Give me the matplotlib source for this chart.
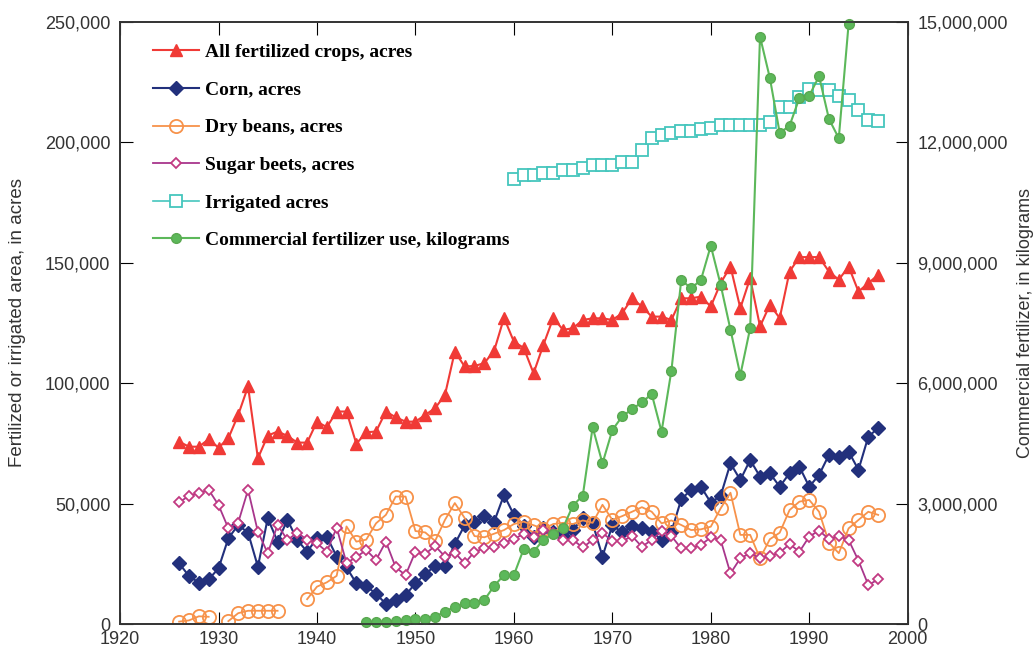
import matplotlib
matplotlib.use("Agg")
import matplotlib.pyplot as plt
from matplotlib.ticker import FuncFormatter
import numpy as np

# years for the crop series
crop_years = np.arange(1926, 1998)

all_crops = [75700, 73600, 73600, 76700, 73200, 77100, 86800, 98600, 68800, 78200,
             79900, 78100, 75300, 75300, 84000, 81700, 88200, 88200, 74800, 79600,
             79900, 88200, 85800, 84000, 84000, 86800, 89600, 95100, 113100, 106900,
             107100, 108300, 113500, 127100, 117200, 114600, 104100, 115900, 127000, 122100,
             122800, 126200, 126900, 126900, 126200, 129000, 135200, 131800, 127600, 127600,
             126200, 135200, 135200, 135900, 131800, 141500, 148400, 131100, 143600, 123500,
             132500, 127000, 146300, 152300, 152300, 152300, 146300, 142900, 148400, 138000,
             141500, 144900]

corn = [25200, 19900, 17200, 18500, 23100, 35600, 41100, 37900, 23800, 43900,
        34200, 43200, 34900, 30000, 35600, 36300, 28000, 23500, 16900, 15800,
        12500, 8400, 10000, 12000, 16900, 20800, 24100, 24100, 33200, 41000,
        42300, 44700, 42500, 53600, 45300, 40800, 36000, 40000, 38000, 36500,
        39000, 44000, 41800, 28000, 41000, 38000, 40700, 39800, 38300, 34900,
        38300, 51800, 55700, 57000, 50400, 53200, 66700, 59800, 68100, 61200,
        62600, 57000, 62600, 65300, 57000, 61900, 70200, 69200, 71600, 64000,
        77800, 81300]

dry_beans = [1000, 1500, 3200, 3000, np.nan, 1200, 4500, 5500, 5500, 5500,
             5500, np.nan, np.nan, 10300, 15500, 17300, 20000, 40500, 34200, 35000,
             41800, 45300, 52900, 52900, 38600, 38000, 34500, 43200, 50200, 44000,
             36500, 36000, 37500, 39000, 41500, 42500, 41000, 39500, 41500, 42000,
             41500, 43000, 42000, 49500, 43200, 44800, 46600, 48500, 46600, 41800,
             43000, 41100, 39000, 39300, 40400, 48000, 54500, 37000, 37000, 27300,
             35200, 37900, 47300, 50800, 51500, 46600, 33800, 29400, 39700, 43200,
             46600, 45300]

sugar_beets = [50500, 53200, 54300, 55700, 49400, 39700, 42100, 55700, 38300, 29400,
               41100, 34900, 37900, 35000, 33500, 30000, 40000, 25300, 27800, 30700,
               26600, 34200, 23500, 20300, 30000, 29100, 32400, 28000, 29600, 25200,
               30000, 31400, 32100, 33800, 35200, 37500, 36000, 39000, 37900, 34900,
               34900, 31800, 34900, 37700, 34600, 34300, 36500, 32100, 34900, 38500,
               36500, 31400, 31500, 32800, 36000, 34900, 21000, 27300, 29400, 27300,
               28200, 29600, 33200, 30000, 36300, 38800, 35200, 36500, 34900, 26300,
               16200, 18500]

irr_years = np.arange(1960, 1998)
irrigated = [184700, 186500, 186500, 187400, 187400, 188300, 188300, 189300, 190600, 190600,
             190600, 191600, 191600, 196600, 201700, 203100, 204000, 204500, 204500, 205400,
             205900, 207200, 207200, 207200, 207200, 207200, 208200, 214800, 214800, 218700,
             222000, 221800, 221800, 219300, 217600, 213500, 209300, 208600]

fert_years = np.arange(1945, 1995)
fertilizer_kg = [57e3, 57e3, 60e3, 75e3, 100e3, 116e3, 133e3, 183e3, 307e3, 432e3,
                 515e3, 532e3, 598e3, 950e3, 1.22e6, 1.22e6, 1.87e6, 1.80e6, 2.10e6, 2.25e6,
                 2.40e6, 2.95e6, 3.20e6, 4.90e6, 4.00e6, 4.83e6, 5.17e6, 5.35e6, 5.52e6, 5.73e6,
                 4.79e6, 6.31e6, 8.57e6, 8.36e6, 8.57e6, 9.42e6, 8.45e6, 7.33e6, 6.20e6, 7.37e6,
                 14.63e6, 13.60e6, 12.23e6, 12.41e6, 13.10e6, 13.16e6, 13.64e6, 12.58e6, 12.10e6, 14.95e6]

plt.rcParams['font.family'] = ['Liberation Sans', 'DejaVu Sans']

fig = plt.figure(figsize=(10.35, 6.49), dpi=100)
ax = fig.add_axes([0.116, 0.0385, 0.761, 0.928])
ax2 = ax.twinx()

h1, = ax.plot(crop_years, all_crops, color='#f03a36', marker='^', markersize=8,
              linewidth=1.5, label='All fertilized crops, acres')
h2, = ax.plot(crop_years, corn, color='#22307c', marker='D', markersize=7.5,
              linewidth=1.5, label='Corn, acres')
h3, = ax.plot(crop_years, dry_beans, color='#f7924a', marker='o', markersize=9.5,
              markerfacecolor='none', markeredgewidth=1.3, linewidth=1.3,
              label='Dry beans, acres')
h4, = ax.plot(crop_years, sugar_beets, color='#a8368c', marker='D', markersize=5,
              markerfacecolor='white', markeredgecolor='#c23a82', markeredgewidth=1.3,
              linewidth=1.3, label='Sugar beets, acres')
h5, = ax.plot(irr_years, irrigated, color='#45c6bd', marker='s', markersize=8,
              markerfacecolor='white', markeredgewidth=1.3, linewidth=1.2,
              label='Irrigated acres')
h6, = ax2.plot(fert_years, fertilizer_kg, color='#5cb85a', marker='o', markersize=7,
               markeredgecolor='#5aa850', linewidth=1.5, clip_on=False,
               label='Commercial fertilizer use, kilograms')

ax.set_xlim(1920, 2000)
ax.set_ylim(0, 250000)
ax2.set_ylim(0, 15000000)
ax.set_xticks(range(1920, 2001, 10))
ax.set_yticks(range(0, 250001, 50000))
ax2.set_yticks(range(0, 15000001, 3000000))

comma = FuncFormatter(lambda v, p: f'{int(v):,}')
ax.yaxis.set_major_formatter(comma)
ax2.yaxis.set_major_formatter(comma)

ax.tick_params(axis='both', direction='in', length=9, labelsize=13,
               labelcolor='#333333', top=True)
ax.tick_params(axis='y', right=False, pad=7)
ax.tick_params(axis='x', pad=5)
ax2.tick_params(axis='y', direction='in', length=9, labelsize=13,
                labelcolor='#333333', pad=7)

for a in (ax, ax2):
    for s in a.spines.values():
        s.set_linewidth(1.2)
        s.set_color('#333333')

ax.set_ylabel('Fertilized or irrigated area, in acres', fontsize=13.5, color='#333333',
              va='center')
ax2.set_ylabel('Commercial fertilizer, in kilograms', fontsize=13, color='#333333',
               rotation=90, va='center')
ax.yaxis.set_label_coords(-0.130, 0.5)
ax2.yaxis.set_label_coords(1.150, 0.5)

ax.legend(handles=[h1, h2, h3, h4, h5, h6], loc='upper left',
          bbox_to_anchor=(0.02, 0.993), frameon=False, handlelength=2.35,
          handletextpad=0.3, labelspacing=1.03,
          prop={'family': 'Liberation Serif', 'weight': 'bold', 'size': 14})

fig.savefig('out.png', dpi=100)
